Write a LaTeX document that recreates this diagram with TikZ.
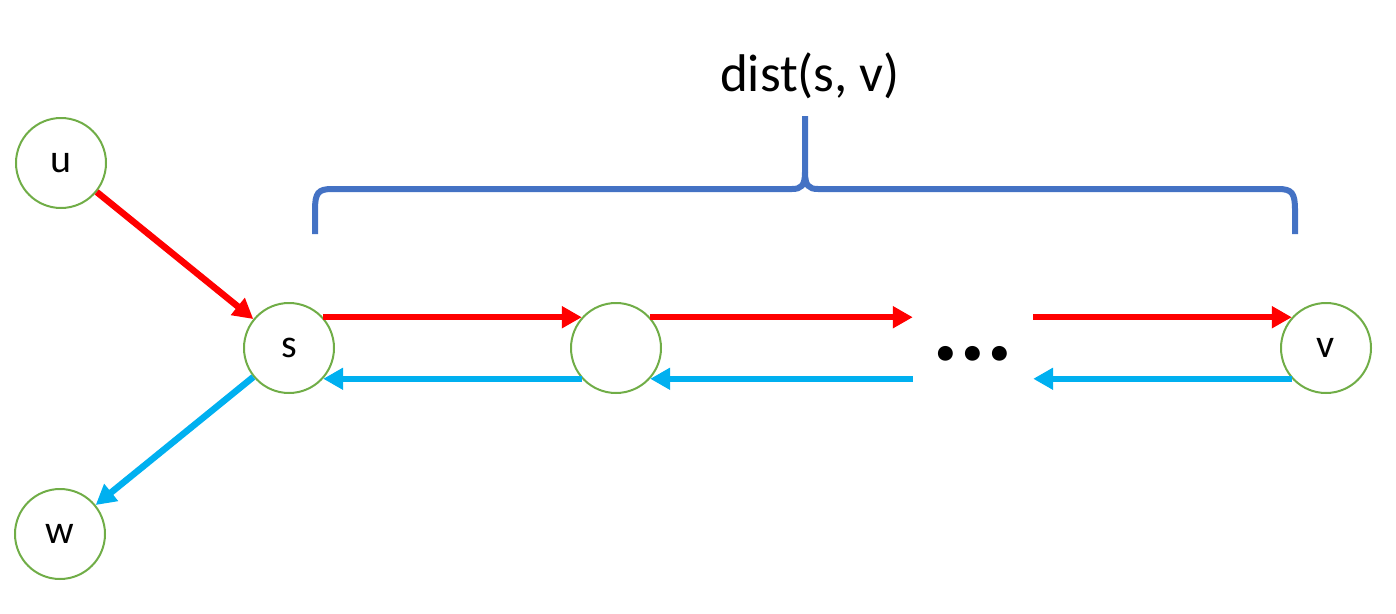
\documentclass[tikz,border=0pt]{standalone}
\usepackage{fontspec}
\setmainfont{Carlito}
\usetikzlibrary{arrows.meta, positioning}

\definecolor{nodegreen}{HTML}{70AD47}
\definecolor{fwdred}{HTML}{FF0000}
\definecolor{backblue}{HTML}{00B0F0}
\definecolor{bracecol}{HTML}{4472C4}

\begin{document}
\begin{tikzpicture}[x=1pt, y=-1pt,
    vert/.style={draw=nodegreen, line width=2pt, circle, minimum size=90pt, inner sep=0pt, font=\fontsize{40}{42}\selectfont},
    fwd/.style={draw=fwdred, line width=6.5pt, -{Triangle[length=20pt,width=21pt]}},
    back/.style={draw=backblue, line width=6.5pt, -{Triangle[length=20pt,width=21pt]}},
    bracket/.style={draw=bracecol, line width=6pt}]
    \useasboundingbox (0,0) rectangle (1396,613);
    % Nodes
    \node (u) [vert] at (61,163) {u};
    \node (s) [vert] at (289,348) {s};
    \node (mid) [vert] at (616,348) {};
    \node (dots) [minimum width=120pt, inner sep=0pt, anchor=base, font=\fontsize{100}{102}\selectfont\bfseries] at (973,360) {...};
    \node (v) [vert] at (1326,348) {v};
    \node (w) [vert] at (60,534) {w};
    \node (dist) [font=\fontsize{53}{56}\selectfont] at (810,76) {dist(s, v)};

    % Arrows
    \draw[fwd] (u) -- (s);
    \draw[back] (s) -- (w);
    \draw[fwd] (s.42) -- (mid.138);
    \draw[fwd] (mid.42) -- (mid.42 -| dots.west);
    \draw[fwd] (v.138 -| dots.east) -- (v.138);
    \draw[back] (v.-138) -- (v.-138 -| dots.east);
    \draw[back] (mid.-42 -| dots.west) -- (mid.-42);
    \draw[back] (mid.-138) -- (s.-42);

    % Brace
    \draw[bracket] (315,234) -- (315,210) .. controls (315,193) and (318,189) .. (332,189)
        -- (792,189) .. controls (801,189) and (805,186) .. (805,172) -- (805,116);
    \draw[bracket] (1295,234) -- (1295,210) .. controls (1295,193) and (1292,189) .. (1278,189)
        -- (818,189) .. controls (809,189) and (805,186) .. (805,172);
\end{tikzpicture}
\end{document}
